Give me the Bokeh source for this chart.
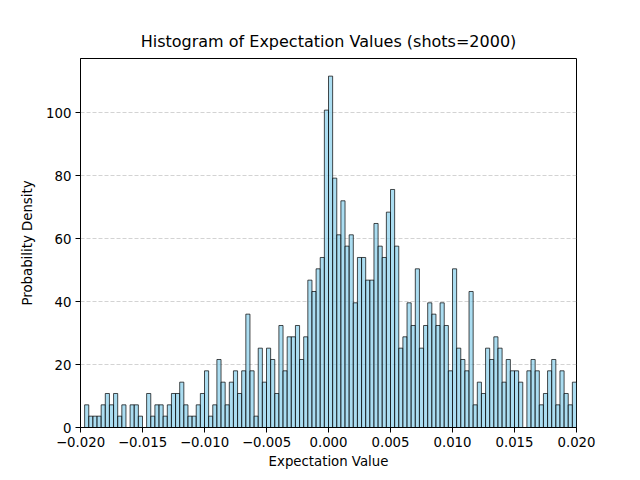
import numpy as np
from bokeh.plotting import figure
from bokeh.models import Range1d, FixedTicker, CustomJSTickFormatter, Title
from bokeh.embed import file_html
from bokeh.resources import INLINE

# Histogram: 120 bins from -0.02 to 0.02, densities
bin_start = -0.02
bin_stop = 0.02
n_bins = 120
density = [
    0.0, 7.2, 3.6, 3.6, 3.6, 7.2, 10.8, 7.2, 10.8, 3.6,
    7.2, 0.0, 7.2, 7.2, 3.6, 0.0, 10.8, 3.6, 7.2, 7.2,
    3.6, 7.2, 10.8, 10.8, 14.4, 7.2, 3.6, 3.6, 7.2, 10.8,
    18.0, 3.6, 7.2, 21.6, 14.4, 7.2, 14.4, 18.0, 10.8, 18.0,
    36.0, 18.0, 3.6, 25.2, 14.4, 25.2, 21.6, 10.8, 32.4, 18.0,
    28.8, 28.8, 32.4, 21.6, 28.8, 46.8, 43.2, 50.4, 54.0, 100.8,
    111.6, 79.2, 61.2, 72.0, 57.6, 61.2, 39.6, 54.0, 54.0, 46.8,
    46.8, 64.8, 57.6, 54.0, 68.4, 75.6, 57.6, 25.2, 28.8, 39.6,
    32.4, 50.4, 25.2, 32.4, 39.6, 36.0, 32.4, 39.6, 32.4, 18.0,
    50.4, 25.2, 21.6, 18.0, 43.2, 7.2, 14.4, 10.8, 25.2, 21.6,
    28.8, 25.2, 14.4, 21.6, 18.0, 18.0, 14.4, 0.0, 18.0, 21.6,
    18.0, 7.2, 10.8, 18.0, 21.6, 7.2, 18.0, 10.8, 7.2, 14.4,
]
x_ticks = [-0.02, -0.015, -0.01, -0.005, 0.0, 0.005, 0.01, 0.015, 0.02]
y_ticks = [0, 20, 40, 60, 80, 100]

edges = np.linspace(bin_start, bin_stop, n_bins + 1)

p = figure(
    frame_width=496, frame_height=369,
    min_border_left=80, min_border_right=56, min_border_top=58, min_border_bottom=45,
    x_range=Range1d(-0.02, 0.02), y_range=Range1d(0, 117.2),
    output_backend="svg", toolbar_location=None,
    title="Histogram of Expectation Values (shots=2000)",
)

p.quad(left=edges[:-1], right=edges[1:], bottom=0, top=density,
       fill_color="skyblue", fill_alpha=0.7,
       line_color="black", line_alpha=0.7, line_width=1)

p.title.align = "center"
p.title.text_font = "DejaVu Sans"
p.title.text_font_size = "16px"
p.title.text_font_style = "normal"
p.title.text_color = "black"

spacer = Title(text=" ", text_font_size="1px", standoff=0)
p.add_layout(spacer, "above")

p.outline_line_color = "black"
p.outline_line_width = 1
p.outline_line_alpha = 1

for ax in (p.xaxis[0], p.yaxis[0]):
    ax.axis_line_color = "black"
    ax.major_tick_line_color = "black"
    ax.major_tick_out = 5
    ax.major_tick_in = 0
    ax.minor_tick_line_color = None
    ax.major_label_text_font = "DejaVu Sans"
    ax.major_label_text_font_size = "13.3px"
    ax.major_label_text_color = "black"
    ax.axis_label_text_font = "DejaVu Sans"
    ax.axis_label_text_font_size = "13.3px"
    ax.axis_label_text_font_style = "normal"
    ax.axis_label_text_color = "black"

p.xaxis.axis_label = "Expectation Value"
p.yaxis.axis_label = "Probability Density"
p.xaxis.ticker = FixedTicker(ticks=x_ticks)
p.yaxis.ticker = FixedTicker(ticks=y_ticks)
p.xaxis.formatter = CustomJSTickFormatter(
    code="return (tick < -1e-12 ? '\u2212' : '') + Math.abs(tick).toFixed(3);")
p.xaxis.major_label_standoff = 4
p.yaxis.major_label_standoff = 4
p.xaxis.axis_label_standoff = 4
p.yaxis.axis_label_standoff = 8

p.xgrid.visible = False
p.ygrid.grid_line_color = "#b0b0b0"
p.ygrid.grid_line_alpha = 0.7
p.ygrid.grid_line_dash = "4 2"
p.ygrid.grid_line_width = 0.8

p.background_fill_color = "white"
p.border_fill_color = "white"

open("out.html", "w").write(file_html(p, INLINE))
